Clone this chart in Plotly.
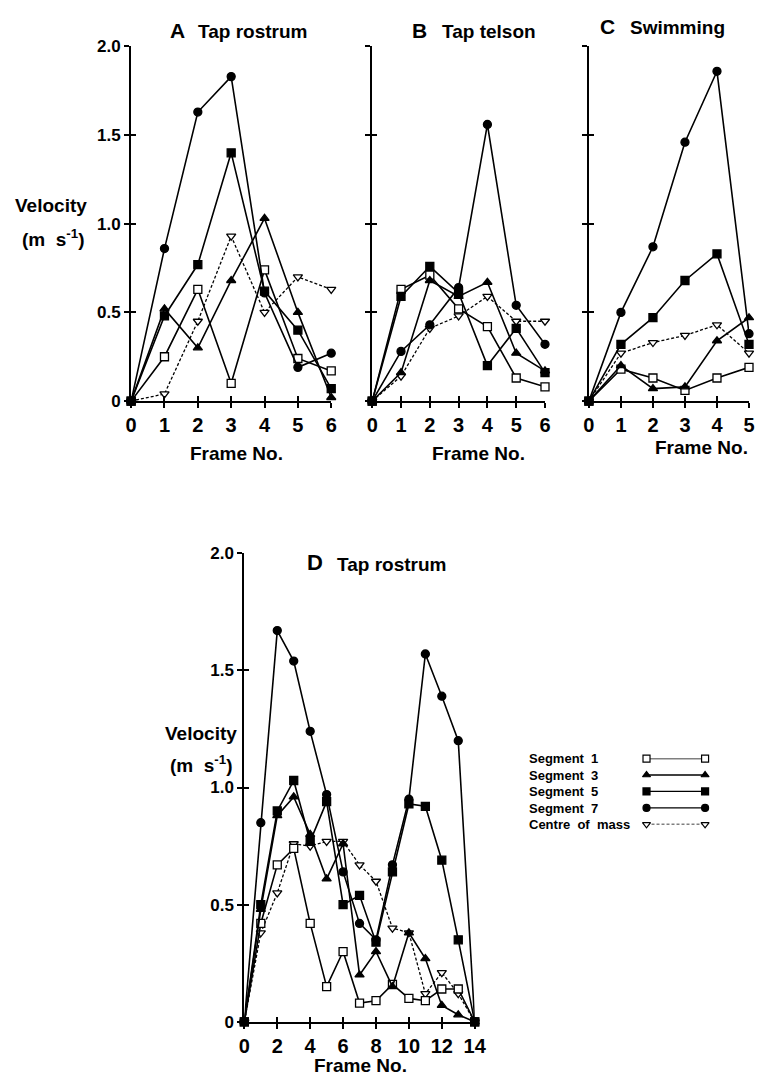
import plotly.graph_objects as go

# browser page has an 8px body margin: size the figure to fit inside it
PAGE_W, PAGE_H = 769, 1084
OFF = 8
W, H = PAGE_W - 2 * OFF, PAGE_H - 2 * OFF

# ---------------- data ----------------
frames_A = [0, 1, 2, 3, 4, 5, 6]
A_seg1 = [0, 0.25, 0.63, 0.10, 0.74, 0.24, 0.17]
A_seg3 = [0, 0.52, 0.30, 0.68, 1.03, 0.50, 0.02]
A_seg5 = [0, 0.48, 0.77, 1.40, 0.62, 0.40, 0.07]
A_seg7 = [0, 0.86, 1.63, 1.83, 0.61, 0.19, 0.27]
A_com = [0, 0.04, 0.45, 0.93, 0.50, 0.70, 0.63]

frames_B = [0, 1, 2, 3, 4, 5, 6]
B_seg1 = [0, 0.63, 0.71, 0.52, 0.42, 0.13, 0.08]
B_seg3 = [0, 0.16, 0.68, 0.59, 0.67, 0.27, 0.17]
B_seg5 = [0, 0.59, 0.76, 0.61, 0.20, 0.41, 0.16]
B_seg7 = [0, 0.28, 0.43, 0.64, 1.56, 0.54, 0.32]
B_com = [0, 0.14, 0.41, 0.48, 0.59, 0.45, 0.45]

frames_C = [0, 1, 2, 3, 4, 5]
C_seg1 = [0, 0.18, 0.13, 0.06, 0.13, 0.19]
C_seg3 = [0, 0.20, 0.07, 0.08, 0.34, 0.47]
C_seg5 = [0, 0.32, 0.47, 0.68, 0.83, 0.32]
C_seg7 = [0, 0.50, 0.87, 1.46, 1.86, 0.38]
C_com = [0, 0.27, 0.33, 0.37, 0.43, 0.27]

frames_D = [0, 1, 2, 3, 4, 5, 6, 7, 8, 9, 10, 11, 12, 13, 14]
D_seg1 = [0, 0.42, 0.67, 0.74, 0.42, 0.15, 0.30, 0.08, 0.09, 0.16, 0.10, 0.09, 0.14, 0.14, 0]
D_seg3 = [0, 0.48, 0.88, 0.96, 0.80, 0.61, 0.76, 0.20, 0.30, 0.15, 0.38, 0.27, 0.07, 0.03, 0]
D_seg5 = [0, 0.50, 0.90, 1.03, 0.77, 0.94, 0.50, 0.54, 0.34, 0.64, 0.93, 0.92, 0.69, 0.35, 0]
D_seg7 = [0, 0.85, 1.67, 1.54, 1.24, 0.97, 0.64, 0.42, 0.35, 0.67, 0.95, 1.57, 1.39, 1.20, 0]
D_com = [0, 0.38, 0.55, 0.76, 0.75, 0.77, 0.77, 0.67, 0.60, 0.40, 0.38, 0.12, 0.21, 0.12, 0]

y_tickvals = [0, 0.5, 1.0, 1.5, 2.0]
y_ticktext = ["0", "0.5", "1.0", "1.5", "2.0"]
series_names = ["Segment  1", "Segment  3", "Segment  5", "Segment  7", "Centre  of  mass"]

FONT = "Liberation Sans, Arial, Helvetica, sans-serif"

styles = [
    dict(symbol="square", size=8, color="white", dash="solid"),
    dict(symbol="triangle-up", size=8, color="black", dash="solid"),
    dict(symbol="square", size=8, color="black", dash="solid"),
    dict(symbol="circle", size=8, color="black", dash="solid"),
    dict(symbol="triangle-down", size=8, color="white", dash="3px,2px"),
]

panels = [
    ("x", "y", frames_A, [A_seg1, A_seg3, A_seg5, A_seg7, A_com]),
    ("x2", "y2", frames_B, [B_seg1, B_seg3, B_seg5, B_seg7, B_com]),
    ("x3", "y3", frames_C, [C_seg1, C_seg3, C_seg5, C_seg7, C_com]),
    ("x4", "y4", frames_D, [D_seg1, D_seg3, D_seg5, D_seg7, D_com]),
]

fig = go.Figure()

for xa, ya, fr, sers in panels:
    order = [4, 0, 1, 2, 3]
    for i in order:
        st = styles[i]
        fig.add_trace(go.Scatter(
            x=fr, y=sers[i], xaxis=xa, yaxis=ya, mode="lines+markers",
            line=dict(color="black", width=1.6 if i < 4 else 1.3, dash=st["dash"]),
            marker=dict(symbol=st["symbol"], size=st["size"], color=st["color"],
                        line=dict(color="black", width=1.3)),
            cliponaxis=False, showlegend=False, hoverinfo="skip"))


def fx(px):
    return min(1.0, max(0.0, (px - OFF) / W))


def fy(py):
    return min(1.0, max(0.0, 1 - (py - OFF) / H))


dom = {
    "A": ([fx(128), fx(333)], [fy(399), fy(38)]),
    "B": ([fx(375), fx(552)], [fy(399), fy(38)]),
    "C": ([fx(597), fx(763)], [fy(399), fy(38)]),
    "D": ([fx(244), fx(480)], [fy(1031), fy(554)]),
}

tickfont_x = dict(family=FONT, size=20, color="black", weight="bold")
tickfont_y = dict(family=FONT, size=17, color="black", weight="bold")

layout = dict(
    width=W, height=H, margin=dict(l=0, r=0, t=0, b=0),
    paper_bgcolor="white", plot_bgcolor="white", showlegend=False,
)

keys = [("", "A", 6, 1, True), ("2", "B", 6, 1, False), ("3", "C", 5, 1, False), ("4", "D", 14, 2, True)]
for idx, (k, name, xmax, dt, ylab) in enumerate(keys):
    xd, yd = dom[name]
    yid = "y" + k
    xid = "x" + k
    layout["xaxis" + k] = dict(
        domain=xd, anchor=yid, range=[0, xmax], tickmode="linear", tick0=0, dtick=dt,
        showline=True, linecolor="black", linewidth=2, ticks="outside", ticklen=5,
        tickwidth=2, tickcolor="black", showgrid=False, zeroline=False,
        tickfont=tickfont_x, fixedrange=True)
    layout["yaxis" + k] = dict(
        domain=yd, anchor=xid, range=[0, 2.0], tickvals=y_tickvals, ticktext=y_ticktext,
        showticklabels=ylab, showline=True, linecolor="black", linewidth=2,
        ticks="outside", ticklen=5, tickwidth=2, tickcolor="black", showgrid=False,
        zeroline=False, tickfont=tickfont_y, fixedrange=True)
    ox = str(5 + idx)
    layout["xaxis" + ox] = dict(
        overlaying=xid, anchor=yid, range=[0, xmax], tickmode="linear", tick0=0, dtick=dt,
        showline=False, ticks="inside", ticklen=5, tickwidth=2, tickcolor="black",
        showticklabels=False, showgrid=False, zeroline=False, fixedrange=True)
    layout["yaxis" + ox] = dict(
        overlaying=yid, anchor=xid, range=[0, 2.0], tickvals=y_tickvals,
        showline=False, ticks="inside", ticklen=5, tickwidth=2, tickcolor="black",
        showticklabels=False, showgrid=False, zeroline=False, fixedrange=True)
    fig.add_trace(go.Scatter(x=[None], y=[None], xaxis="x" + ox, yaxis=yid, mode="markers",
                             showlegend=False, hoverinfo="skip"))
    fig.add_trace(go.Scatter(x=[None], y=[None], xaxis=xid, yaxis="y" + ox, mode="markers",
                             showlegend=False, hoverinfo="skip"))

# legend helper axis (sample lines on the right of the labels)
leg_rows = [0, 1, 2, 3, 4]
layout["xaxis9"] = dict(domain=[fx(656), fx(716)], anchor="y9", range=[0, 1], visible=False, fixedrange=True)
layout["yaxis9"] = dict(domain=[fy(830), fy(763)], anchor="x9", range=[4, 0], visible=False, fixedrange=True)
for i, st in enumerate(styles):
    fig.add_trace(go.Scatter(
        x=[0, 1], y=[leg_rows[i], leg_rows[i]], xaxis="x9", yaxis="y9", mode="lines+markers",
        line=dict(color="black", width=1.3, dash=st["dash"]),
        marker=dict(symbol=st["symbol"], size=7, color=st["color"], line=dict(color="black", width=1.2)),
        cliponaxis=False, showlegend=False, hoverinfo="skip"))

fig.update_layout(**layout)

ann = []


def text(x, y, s, size, xanchor="left", yanchor="middle"):
    ann.append(dict(x=fx(x), y=fy(y), xref="paper", yref="paper", text=s, showarrow=False,
                    xanchor=xanchor, yanchor=yanchor,
                    font=dict(family=FONT, size=size, color="black", weight="bold")))


# panel titles
text(166, 22, "A", 21)
text(194, 23, "Tap rostrum", 19)
text(414, 22, "B", 21)
text(444, 23, "Tap telson", 19)
text(606, 18, "C", 21)
text(637, 19, "Swimming", 19)
text(306, 563, "D", 22)
text(337, 565, "Tap rostrum", 19)

# axis titles
text(236, 452, "Frame No.", 19, "center")
text(484, 452, "Frame No.", 19, "center")
text(712, 446, "Frame No.", 19, "center")
text(363, 1075, "Frame No.", 19, "center")
text(46, 200, "Velocity", 19, "center")
text(48, 233, "(m  s<sup>-1</sup>)", 19, "center")
text(200, 737, "Velocity", 19, "center")
text(200, 769, "(m  s<sup>-1</sup>)", 19, "center")

# legend labels
for i, nm in enumerate(series_names):
    text(534, 763 + i * 16.8, nm, 13)

fig.update_layout(annotations=ann)
fig.write_html("out.html")
